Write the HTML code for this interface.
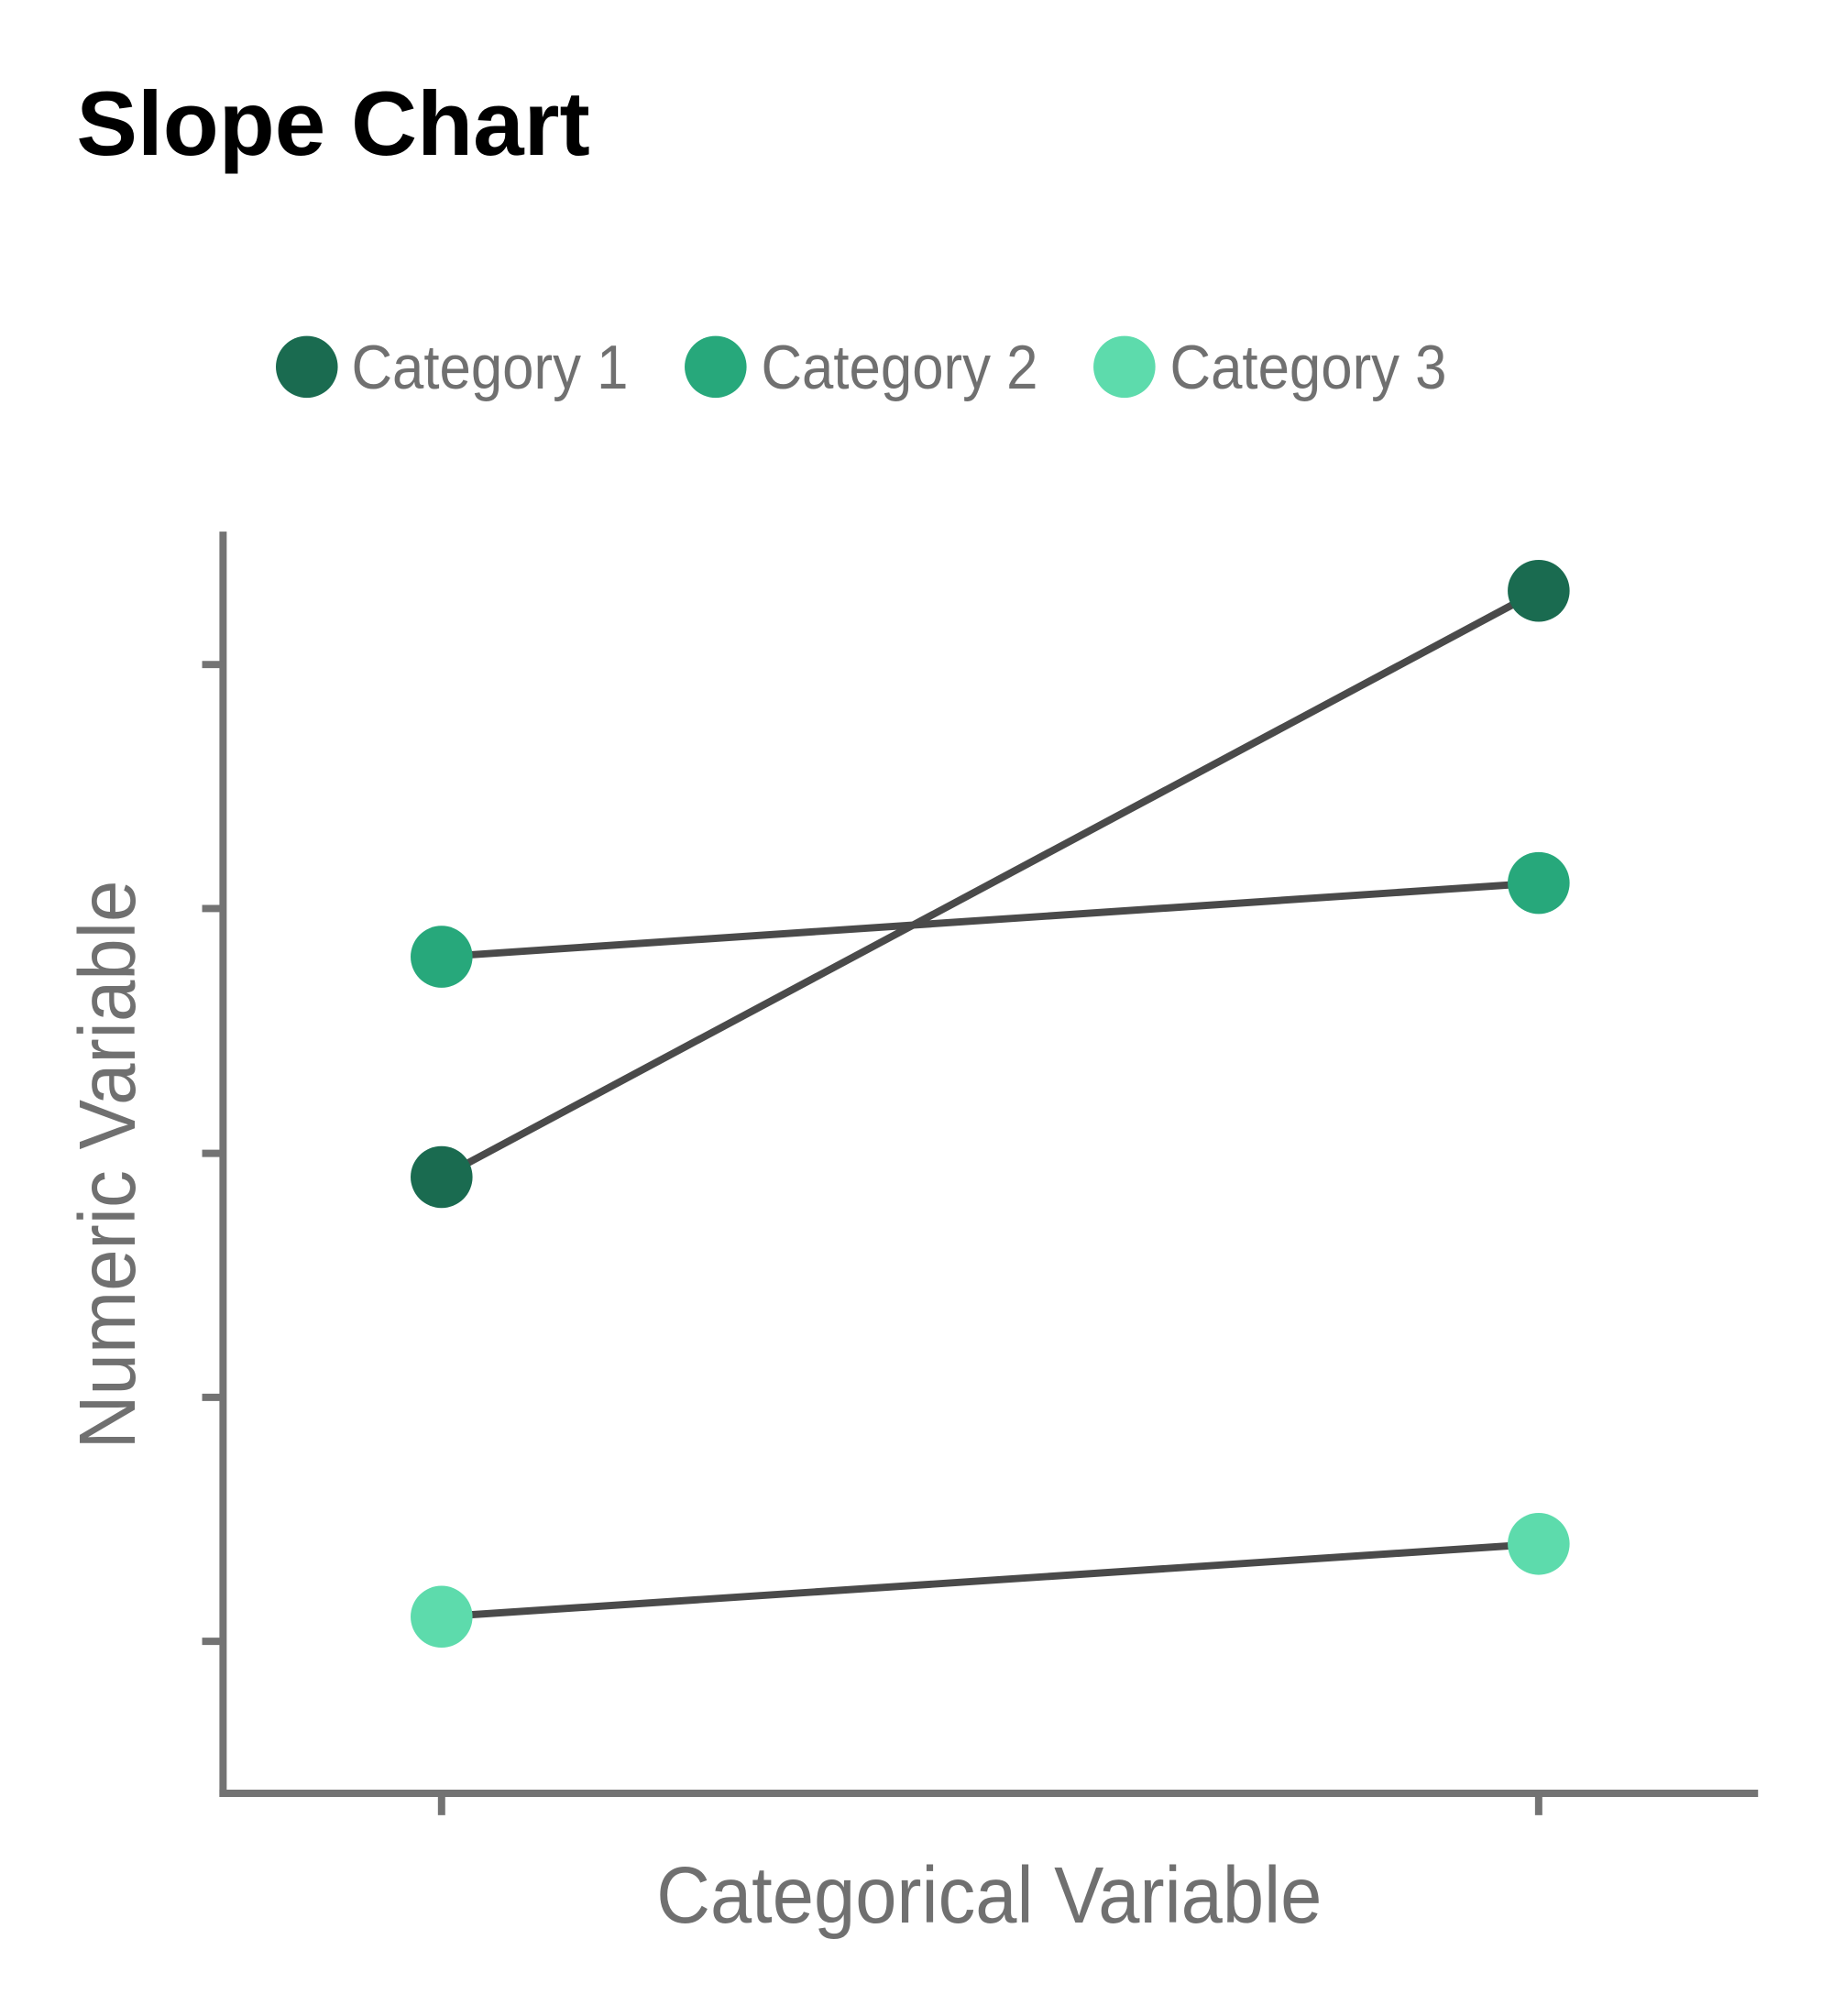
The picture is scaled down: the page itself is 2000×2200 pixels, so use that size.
<!DOCTYPE html>
<html><head><meta charset="utf-8"><style>
html,body{margin:0;padding:0;background:#fff;}
svg{display:block;}
</style></head><body>
<svg width="2000" height="2200" viewBox="0 0 2000 2200" xmlns="http://www.w3.org/2000/svg">
<g transform="scale(0.9934)">
<text x="84" y="170" font-family="Liberation Sans Narrow, Liberation Sans, sans-serif" font-weight="bold" font-size="100" textLength="564" lengthAdjust="spacingAndGlyphs" fill="#000">Slope Chart</text>
<g font-family="Liberation Sans Narrow, Liberation Sans, sans-serif" font-size="68" fill="#707070">
<circle cx="337" cy="403" r="34" fill="#1a6b50"/>
<text x="386" y="427" textLength="304" lengthAdjust="spacingAndGlyphs">Category 1</text>
<circle cx="786" cy="403" r="34" fill="#27a87b"/>
<text x="836" y="427" textLength="304" lengthAdjust="spacingAndGlyphs">Category 2</text>
<circle cx="1235" cy="403" r="34" fill="#5ddbac"/>
<text x="1285" y="427" textLength="304" lengthAdjust="spacingAndGlyphs">Category 3</text>
</g>
<g stroke="#737373" stroke-width="8" fill="none">
<line x1="245" y1="584" x2="245" y2="1974"/>
<line x1="241" y1="1970" x2="1931" y2="1970"/>
<line x1="222" y1="730" x2="245" y2="730"/>
<line x1="222" y1="998" x2="245" y2="998"/>
<line x1="222" y1="1267" x2="245" y2="1267"/>
<line x1="222" y1="1535" x2="245" y2="1535"/>
<line x1="222" y1="1803" x2="245" y2="1803"/>
<line x1="485" y1="1970" x2="485" y2="1994"/>
<line x1="1690" y1="1970" x2="1690" y2="1994"/>
</g>
<g stroke="#4a4a4a" stroke-width="8">
<line x1="485" y1="1293" x2="1690" y2="649"/>
<line x1="485" y1="1051" x2="1690" y2="970"/>
<line x1="485" y1="1776" x2="1690" y2="1696"/>
</g>
<circle cx="485" cy="1293" r="34" fill="#1a6b50"/>
<circle cx="1690" cy="649" r="34" fill="#1a6b50"/>
<circle cx="485" cy="1051" r="34" fill="#27a87b"/>
<circle cx="1690" cy="970" r="34" fill="#27a87b"/>
<circle cx="485" cy="1776" r="34" fill="#5ddbac"/>
<circle cx="1690" cy="1696" r="34" fill="#5ddbac"/>
<g font-family="Liberation Sans Narrow, Liberation Sans, sans-serif" font-size="88" fill="#707070">
<text x="721" y="2112" textLength="731" lengthAdjust="spacingAndGlyphs">Categorical Variable</text>
<text transform="translate(148,1592) rotate(-90)" x="0" y="0" textLength="625" lengthAdjust="spacingAndGlyphs">Numeric Variable</text>
</g>
</g>
</svg>
</body></html>
